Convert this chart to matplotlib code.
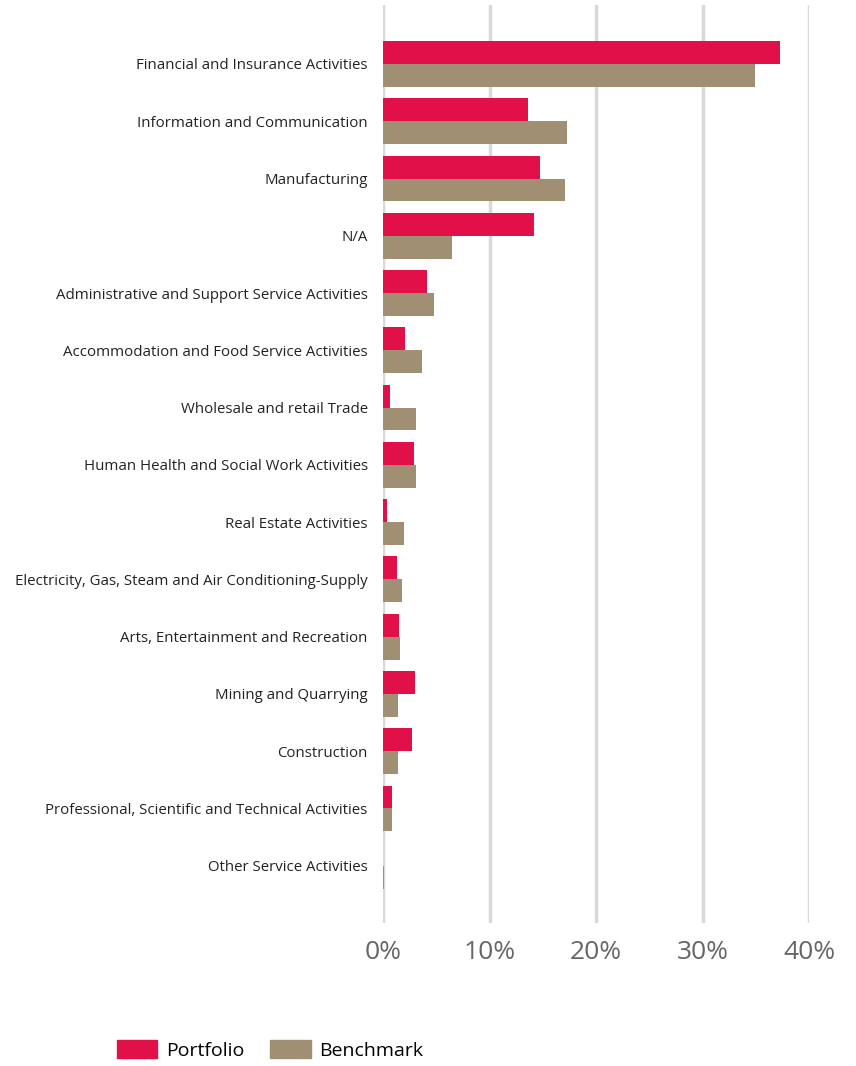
import numpy as np
import matplotlib
matplotlib.use("Agg")
import matplotlib.pyplot as plt
from matplotlib.patches import Patch

# sector weights in %
sectors = [
    "Financial and Insurance Activities",
    "Information and Communication",
    "Manufacturing",
    "N/A",
    "Administrative and Support Service Activities",
    "Accommodation and Food Service Activities",
    "Wholesale and retail Trade",
    "Human Health and Social Work Activities",
    "Real Estate Activities",
    "Electricity, Gas, Steam and Air Conditioning-Supply",
    "Arts, Entertainment and Recreation",
    "Mining and Quarrying",
    "Construction",
    "Professional, Scientific and Technical Activities",
    "Other Service Activities",
]
portfolio = [37.3, 13.6, 14.7, 14.2, 4.1, 2.1, 0.7, 2.9, 0.4, 1.3, 1.5, 3.0, 2.7, 0.85, 0.0]
benchmark = [34.9, 17.3, 17.1, 6.5, 4.8, 3.7, 3.1, 3.1, 2.0, 1.8, 1.6, 1.4, 1.4, 0.8, 0.08]
xticks = [0, 10, 20, 30, 40]

RED = "#E11048"
TAN = "#A08F72"

plt.rcParams['font.family'] = ['Open Sans', 'DejaVu Sans']

fig = plt.figure(figsize=(8.56, 10.66), dpi=100)
ax = fig.add_axes([383 / 856, 1 - 923 / 1066, (809 - 383) / 856, (923 - 5) / 1066])

y = np.arange(len(sectors))
h = 0.4
ax.barh(y - h / 2, portfolio, height=h, color=RED, zorder=3)
ax.barh(y + h / 2, benchmark, height=h, color=TAN, zorder=3)

ax.set_xlim(0, 40)
ax.set_ylim(len(sectors) - 1 + 1.0, -1.03)
ax.set_yticks(y)
ax.set_yticklabels(sectors, fontsize=10.8, color="#222222")
ax.set_xticks(xticks)
ax.set_xticklabels([f"{t}%" for t in xticks], fontsize=19, color="#666666")
ax.tick_params(axis="y", length=0, pad=11)
ax.tick_params(axis="x", length=0, pad=12)

for s in ax.spines.values():
    s.set_visible(False)
ax.grid(axis="x", color="#d9d9d9", linewidth=2.5, zorder=0)
ax.set_axisbelow(True)

handles = [Patch(color=RED, label="Portfolio"), Patch(color=TAN, label="Benchmark")]
fig.legend(handles=handles, loc="center left", bbox_to_anchor=(99 / 856, 1 - 1050 / 1066),
           ncol=2, frameon=False, fontsize=14, handlelength=2.1, handleheight=1.0,
           columnspacing=1.3, handletextpad=0.45)

fig.savefig("out.png", dpi=100)
